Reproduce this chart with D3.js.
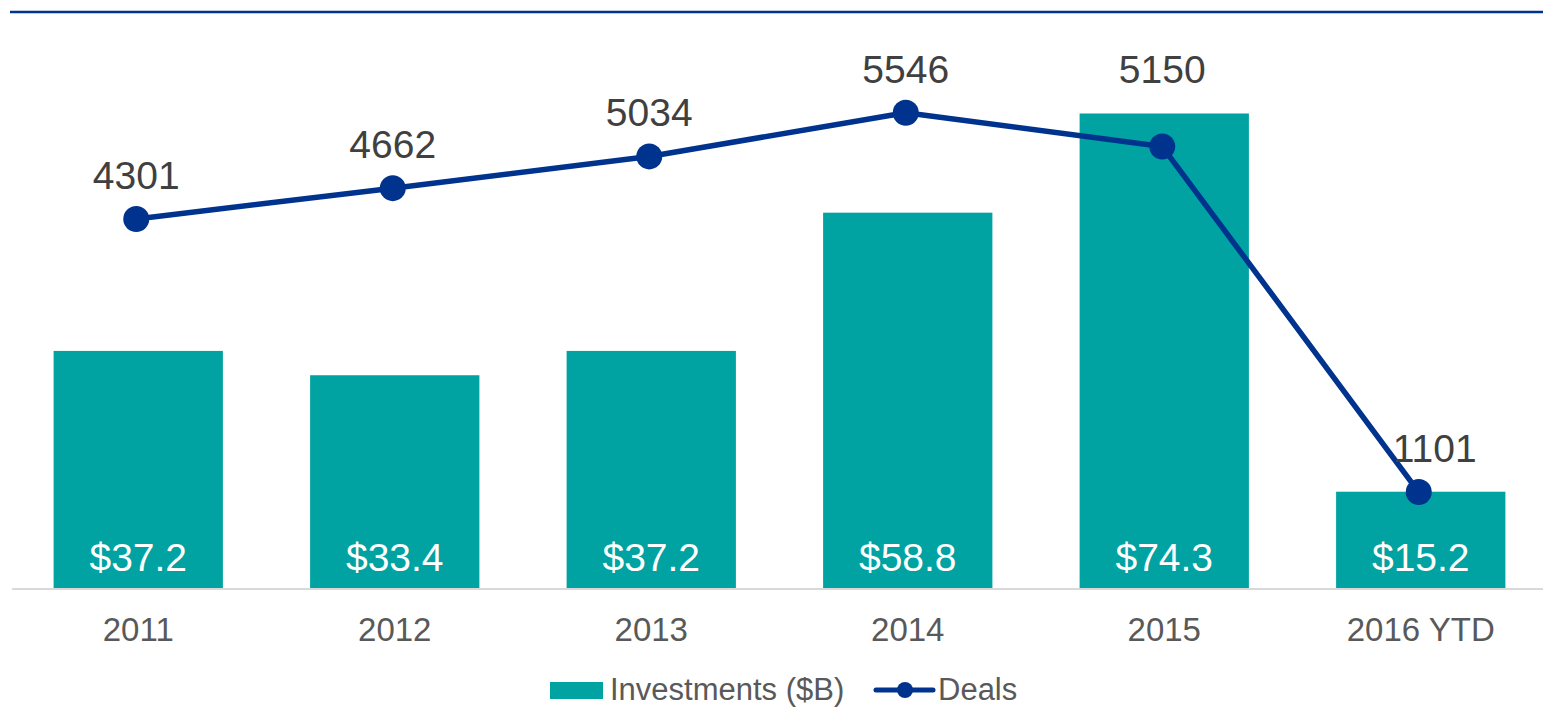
<!DOCTYPE html>
<html>
<head>
<meta charset="utf-8">
<script src="https://cdn.jsdelivr.net/npm/d3@7/dist/d3.min.js"></script>
<style>
  html, body { margin: 0; padding: 0; background: #ffffff; }
  svg { display: block; font-family: "Liberation Sans", Arial, sans-serif; }
</style>
</head>
<body>
<svg id="chart" width="1543" height="707"></svg>
<script>
const categories = ["2011", "2012", "2013", "2014", "2015", "2016 YTD"];
const investments = [37.2, 33.4, 37.2, 58.8, 74.3, 15.2];
const investmentLabels = ["$37.2", "$33.4", "$37.2", "$58.8", "$74.3", "$15.2"];
const deals = [4301, 4662, 5034, 5546, 5150, 1101];
const legendLabels = ["Investments ($B)", "Deals"];

const TEAL = "#00A3A1";
const NAVY = "#00338D";

const svg = d3.select("#chart");

// top rule
svg.append("line")
  .attr("x1", 10).attr("x2", 1543)
  .attr("y1", 12).attr("y2", 12)
  .attr("stroke", NAVY).attr("stroke-width", 2.5);

const x = d3.scaleBand()
  .domain(categories)
  .range([10, 1549])
  .paddingInner(0.34)
  .paddingOuter(0.17);

const y = d3.scaleLinear().domain([0, 80]).range([589, 77]);
const y2 = d3.scaleLinear().domain([0, 6000]).range([586, 74]);

// bars
svg.append("g").selectAll("rect")
  .data(categories)
  .join("rect")
  .attr("x", d => x(d))
  .attr("width", x.bandwidth())
  .attr("y", (d, i) => y(investments[i]))
  .attr("height", (d, i) => y(0) - y(investments[i]))
  .attr("fill", TEAL);

// baseline axis
const xAxis = d3.axisBottom(x).tickSize(0).tickPadding(0);
const axisG = svg.append("g")
  .attr("transform", `translate(0,${y(0)})`)
  .call(xAxis);
axisG.select(".domain")
  .attr("d", `M12,0H1543`)
  .attr("stroke", "#d9d9d9").attr("stroke-width", 2);
axisG.selectAll(".tick text")
  .attr("y", 52)
  .attr("dy", 0)
  .attr("font-size", 33)
  .attr("font-family", "Liberation Sans, Arial, sans-serif")
  .attr("fill", "#595959");

// bar labels
svg.append("g").selectAll("text")
  .data(categories)
  .join("text")
  .attr("x", d => x(d) + x.bandwidth() / 2)
  .attr("y", 571)
  .attr("text-anchor", "middle")
  .attr("font-size", 39)
  .attr("fill", "#ffffff")
  .text((d, i) => investmentLabels[i]);

// deals line
const cx = d => x(d) + x.bandwidth() / 2 - 2;
const line = d3.line()
  .x((d, i) => cx(categories[i]))
  .y(d => y2(d));

svg.append("path")
  .datum(deals)
  .attr("d", line)
  .attr("fill", "none")
  .attr("stroke", NAVY)
  .attr("stroke-width", 5.5)
  .attr("stroke-linejoin", "round");

svg.append("g").selectAll("circle")
  .data(deals)
  .join("circle")
  .attr("cx", (d, i) => cx(categories[i]))
  .attr("cy", d => y2(d))
  .attr("r", 13)
  .attr("fill", NAVY);

// deal labels (label above the bar when the bar top is higher than the point)
svg.append("g").selectAll("text")
  .data(deals)
  .join("text")
  .attr("x", (d, i) => cx(categories[i]) + (i === deals.length - 1 ? 16 : 0))
  .attr("y", (d, i) => Math.min(y2(d), y(investments[i])) - 30)
  .attr("text-anchor", "middle")
  .attr("font-size", 39)
  .attr("fill", "#404040")
  .text(d => d);

// legend
const lg = svg.append("g");
lg.append("rect")
  .attr("x", 550).attr("y", 682)
  .attr("width", 53).attr("height", 17)
  .attr("fill", TEAL);
lg.append("text")
  .attr("x", 610).attr("y", 700)
  .attr("font-size", 31)
  .attr("fill", "#595959")
  .text(legendLabels[0]);
lg.append("line")
  .attr("x1", 876).attr("x2", 933)
  .attr("y1", 690).attr("y2", 690)
  .attr("stroke", NAVY).attr("stroke-width", 5)
  .attr("stroke-linecap", "round");
lg.append("circle")
  .attr("cx", 905).attr("cy", 690).attr("r", 8)
  .attr("fill", NAVY);
lg.append("text")
  .attr("x", 938).attr("y", 700)
  .attr("font-size", 31)
  .attr("fill", "#595959")
  .text(legendLabels[1]);
</script>
</body>
</html>
